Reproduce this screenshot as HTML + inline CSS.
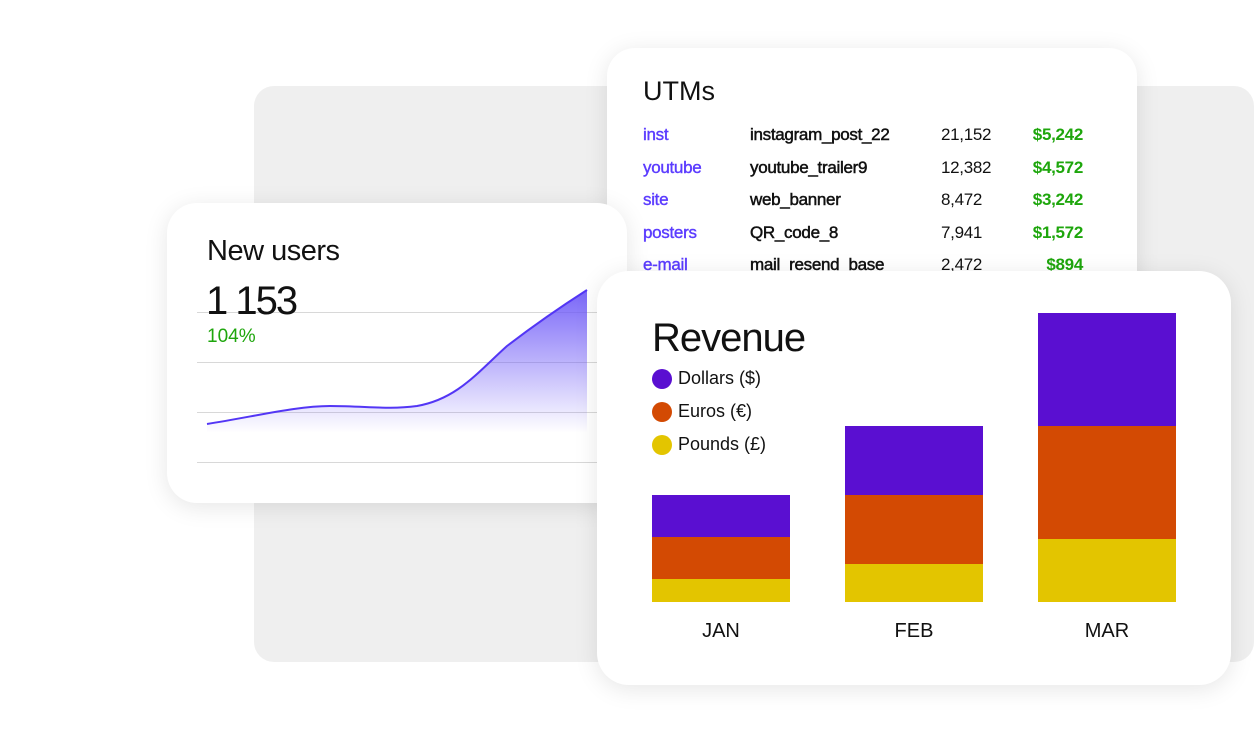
<!DOCTYPE html>
<html><head><meta charset="utf-8"><style>
body{margin:0;width:1254px;height:749px;background:#fff;position:relative;overflow:hidden;font-family:"Liberation Sans",sans-serif}
.a{position:absolute}
.card{position:absolute;background:#fff;box-shadow:0 4px 24px rgba(0,0,0,0.10)}
.r{position:absolute;font-size:17px;line-height:20px;letter-spacing:-0.3px}
.c1{left:36px;color:#5b3cff;-webkit-text-stroke:0.4px #5b3cff}
.c2{left:143px;color:#111;-webkit-text-stroke:0.5px #111}
.c3{left:334px;color:#111}
.c4{right:54px;color:#1ea60c;font-weight:bold;text-align:right}
</style></head><body>
<div class="a" style="left:254px;top:86px;width:1000px;height:576px;background:#efefef;border-radius:20px"></div>

<div class="card" style="left:607px;top:48px;width:530px;height:300px;border-radius:28px">
<div class="a" style="left:36px;top:28px;font-size:27px;color:#111">UTMs</div>
<div class="r c1" style="top:77px">inst</div><div class="r c2" style="top:77px">instagram_post_22</div><div class="r c3" style="top:77px">21,152</div><div class="r c4" style="top:77px">$5,242</div>
<div class="r c1" style="top:110px">youtube</div><div class="r c2" style="top:110px">youtube_trailer9</div><div class="r c3" style="top:110px">12,382</div><div class="r c4" style="top:110px">$4,572</div>
<div class="r c1" style="top:142px">site</div><div class="r c2" style="top:142px">web_banner</div><div class="r c3" style="top:142px">8,472</div><div class="r c4" style="top:142px">$3,242</div>
<div class="r c1" style="top:175px">posters</div><div class="r c2" style="top:175px">QR_code_8</div><div class="r c3" style="top:175px">7,941</div><div class="r c4" style="top:175px">$1,572</div>
<div class="r c1" style="top:207px">e-mail</div><div class="r c2" style="top:207px">mail_resend_base</div><div class="r c3" style="top:207px">2,472</div><div class="r c4" style="top:207px">$894</div>
</div>

<div class="card" style="left:167px;top:203px;width:460px;height:300px;border-radius:30px">
<svg class="a" style="left:0;top:0" width="460" height="300">
<defs><linearGradient id="g" x1="0" y1="0" x2="0" y2="1"><stop offset="0" stop-color="#6a55f7" stop-opacity="0.9"/><stop offset="1" stop-color="#6a55f7" stop-opacity="0"/></linearGradient></defs>
<g stroke="#d8d8d8" stroke-width="1"><line x1="30" y1="109.5" x2="430" y2="109.5"/><line x1="30" y1="159.5" x2="430" y2="159.5"/><line x1="30" y1="209.5" x2="430" y2="209.5"/><line x1="30" y1="259.5" x2="430" y2="259.5"/></g>
<path d="M40 221 C90 213 130 203 163 203 C200 203 220 207 250 203 C290 196 310 170 340 143 C370 120 395 103 420 87 L420 230 L40 230 Z" fill="url(#g)"/>
<path d="M40 221 C90 213 130 203 163 203 C200 203 220 207 250 203 C290 196 310 170 340 143 C370 120 395 103 420 87" fill="none" stroke="#5336f5" stroke-width="2"/>
</svg>
<div class="a" style="left:40px;top:32px;font-size:29px;color:#111;letter-spacing:-0.5px">New users</div>
<div class="a" style="left:39px;top:76px;font-size:40px;color:#111;letter-spacing:-2px">1 153</div>
<div class="a" style="left:40px;top:123px;font-size:19px;color:#1ea60c">104%</div>
</div>

<div class="card" style="left:597px;top:271px;width:634px;height:414px;border-radius:32px">
<div class="a" style="left:55px;top:45px;font-size:40px;color:#111;letter-spacing:-1px">Revenue</div>
<div class="a" style="left:55px;top:98px;width:20px;height:20px;border-radius:50%;background:#5a0fd1"></div><div class="a" style="left:81px;top:97px;font-size:18px;color:#111">Dollars ($)</div>
<div class="a" style="left:55px;top:131px;width:20px;height:20px;border-radius:50%;background:#d34a03"></div><div class="a" style="left:81px;top:130px;font-size:18px;color:#111">Euros (€)</div>
<div class="a" style="left:55px;top:164px;width:20px;height:20px;border-radius:50%;background:#e3c500"></div><div class="a" style="left:81px;top:163px;font-size:18px;color:#111">Pounds (£)</div>
<div class="a" style="left:55px;top:224px;width:138px;height:42px;background:#5a0fd1"></div>
<div class="a" style="left:55px;top:266px;width:138px;height:42px;background:#d34a03"></div>
<div class="a" style="left:55px;top:308px;width:138px;height:23px;background:#e3c500"></div>
<div class="a" style="left:248px;top:155px;width:138px;height:69px;background:#5a0fd1"></div>
<div class="a" style="left:248px;top:224px;width:138px;height:69px;background:#d34a03"></div>
<div class="a" style="left:248px;top:293px;width:138px;height:38px;background:#e3c500"></div>
<div class="a" style="left:441px;top:42px;width:138px;height:113px;background:#5a0fd1"></div>
<div class="a" style="left:441px;top:155px;width:138px;height:113px;background:#d34a03"></div>
<div class="a" style="left:441px;top:268px;width:138px;height:63px;background:#e3c500"></div>
<div class="a" style="left:55px;top:349px;width:138px;text-align:center;font-size:20px;color:#111">JAN</div>
<div class="a" style="left:248px;top:349px;width:138px;text-align:center;font-size:20px;color:#111">FEB</div>
<div class="a" style="left:441px;top:349px;width:138px;text-align:center;font-size:20px;color:#111">MAR</div>
</div>
</body></html>
